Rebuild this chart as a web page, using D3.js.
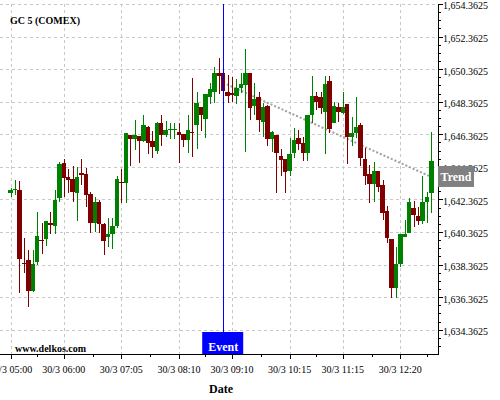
<!DOCTYPE html>
<html><head><meta charset="utf-8">
<script src="https://cdn.jsdelivr.net/npm/d3@7"></script>
<style>body{margin:0;background:#fff;} svg{display:block;font-family:"Liberation Serif","Times New Roman",serif;}</style>
</head><body><svg id="c" width="500" height="400"></svg>
<script>
const dateLabel = "30/3";
const times = ["05:00","05:05","05:10","05:15","05:20","05:25","05:30","05:35","05:40","05:45","05:50","05:55",
"06:00","06:05","06:10","06:15","06:20","06:25","06:30","06:35","06:40","06:45","06:50","06:55",
"07:00","07:05","07:10","07:15","07:20","07:25","07:30","07:35","07:40","07:45","07:50","07:55",
"08:00","08:05","08:10","08:15","08:20","08:25","08:30","08:35","08:40","08:45","08:50","08:55",
"09:00","09:05","09:10","09:15","09:20","09:25","09:30","09:35","09:40","09:45","09:50","09:55",
"10:00","10:05","10:10","10:15","10:20","10:25","10:30","10:35","10:40","10:45","10:50","10:55",
"11:00","11:05","11:10","11:15","11:20","11:25","11:30","11:35","11:40","11:45","11:50","11:55",
"12:00","12:05","12:10","12:15","12:20","12:25","12:30","12:35","12:40","12:45","12:50","12:55"];
const open = [1642.77,1642.94,1642.94,1638.47,1638.64,1636.76,1638.54,1639.86,1639.95,1640.93,1640.75,1642.47,
1644.58,1643.72,1643.61,1642.77,1643.96,1643.95,1642.72,1640.89,1642.22,1640.85,1640.07,1640.24,
1640.73,1643.43,1643.35,1646.31,1646.05,1646.25,1645.96,1646.82,1645.96,1645.35,1647.07,1646.31,
1646.62,1646.62,1646.52,1646.38,1646.01,1646.52,1646.93,1648.01,1647.30,1648.66,1648.97,1650.10,
1650.10,1648.94,1648.92,1648.73,1649.18,1649.38,1650.10,1648.11,1648.66,1647.13,1648.09,1646.05,
1646.31,1645.02,1644.84,1644.13,1645.23,1646.11,1645.80,1645.23,1647.54,1648.71,1648.66,1647.74,
1649.65,1647.07,1648.01,1647.65,1648.22,1646.17,1646.45,1646.93,1644.82,1643.92,1643.29,1644.10,
1643.24,1641.67,1639.93,1636.94,1638.40,1640.07,1640.32,1641.81,1641.34,1641.05,1642.22,1642.77];
const close = [1642.94,1643.00,1638.68,1638.41,1636.76,1638.40,1640.11,1639.79,1641.03,1640.77,1642.32,1644.53,
1643.66,1643.55,1642.83,1643.74,1643.84,1642.63,1640.93,1642.22,1640.85,1639.83,1640.24,1640.73,
1643.59,1643.37,1646.42,1646.05,1646.31,1645.96,1646.93,1645.84,1645.56,1647.07,1646.31,1646.62,
1646.68,1646.68,1646.31,1646.01,1646.62,1646.45,1648.26,1647.54,1648.83,1649.12,1650.10,1649.95,
1649.03,1648.73,1648.75,1649.18,1649.44,1650.10,1647.95,1648.51,1647.23,1648.05,1646.05,1646.52,
1645.23,1644.78,1644.06,1645.15,1646.01,1645.76,1645.19,1647.54,1648.71,1648.36,1647.95,1649.44,
1646.66,1648.09,1647.74,1648.01,1646.17,1646.45,1646.82,1644.93,1643.82,1643.29,1644.10,1643.14,
1641.54,1639.97,1636.94,1638.40,1640.22,1640.22,1642.22,1641.40,1641.05,1642.22,1642.53,1644.72];
const high = [1643.04,1643.55,1643.51,1640.01,1639.25,1639.25,1641.61,1640.91,1641.05,1641.61,1642.94,1644.68,
1644.82,1644.21,1644.41,1644.35,1644.82,1644.29,1642.82,1642.53,1642.30,1640.90,1641.20,1641.20,
1643.80,1644.21,1646.44,1646.33,1647.23,1646.27,1647.54,1646.84,1646.58,1647.09,1647.54,1647.19,
1647.07,1647.07,1647.03,1646.40,1647.54,1649.79,1648.97,1648.03,1648.85,1649.49,1650.51,1651.04,
1650.12,1650.00,1649.85,1649.73,1650.10,1651.57,1650.12,1649.49,1648.97,1648.26,1648.16,1646.54,
1646.33,1645.44,1644.86,1646.11,1646.73,1646.62,1646.17,1647.56,1649.94,1648.97,1648.97,1649.94,
1649.94,1648.36,1648.26,1648.97,1648.24,1647.40,1648.63,1647.03,1645.50,1644.47,1644.68,1644.12,
1643.55,1641.96,1639.95,1639.42,1640.24,1641.10,1642.43,1642.28,1641.88,1643.80,1642.83,1646.52];
const low = [1642.53,1642.63,1636.60,1637.82,1635.77,1636.69,1638.33,1639.01,1639.50,1640.24,1640.24,1642.18,
1642.53,1642.77,1642.18,1641.03,1643.24,1641.88,1640.28,1640.38,1640.32,1638.95,1639.42,1639.30,
1640.61,1642.16,1642.16,1644.41,1645.39,1644.60,1645.90,1645.13,1644.88,1645.15,1645.64,1646.17,
1646.05,1646.05,1644.58,1645.56,1645.19,1644.98,1645.44,1646.58,1646.11,1648.22,1648.26,1648.83,
1648.77,1648.30,1648.32,1648.22,1648.87,1645.29,1647.23,1647.54,1646.52,1646.21,1645.64,1645.29,
1642.74,1643.80,1642.74,1643.80,1644.88,1645.39,1644.74,1644.74,1647.07,1647.85,1647.60,1645.15,
1646.45,1647.05,1647.13,1647.60,1644.53,1645.64,1646.11,1644.41,1643.24,1642.16,1642.22,1642.83,
1641.10,1639.70,1636.29,1636.29,1638.19,1640.05,1640.28,1640.68,1640.79,1640.85,1640.89,1641.51];
const yTickValues = [1634.3625,1636.3625,1638.3625,1640.3625,1642.3625,1644.3625,1646.3625,1648.3625,1650.3625,1652.3625,1654.3625];
const xTickIndex = [0,12,25,38,50,63,75,88];
const eventIndex = 48;
const eventLabel = "Event";
const trendIndex = [48,95];
const trendValue = [1649.53,1643.74];
const trendLabel = "Trend";
const title = "GC 5 (COMEX)";
const watermark = "www.delkos.com";
const xTitle = "Date";

const svg = d3.select("#c");
const L=0,R=438,T=4,B=354;
const x = d3.scaleLinear().domain([-2.4,96.5]).range([L,R]);
const y = d3.scaleLinear().domain([1632.87,1654.36]).range([B,T]);
const fmt = d3.format(",.4f");
const px = v => Math.round(v)+0.5;
const GREEN="#008000", RED="#800000";

// grid
const grid = svg.append("g").attr("stroke","#c8c8c8").attr("stroke-dasharray","3,3").attr("stroke-width",1);
yTickValues.forEach(v=>{ grid.append("line").attr("x1",L).attr("x2",R).attr("y1",px(y(v))).attr("y2",px(y(v))); });
xTickIndex.forEach(i=>{ grid.append("line").attr("x1",px(x(i))).attr("x2",px(x(i))).attr("y1",T).attr("y2",B); });

// trend line (behind candles)
svg.append("line").attr("x1",x(trendIndex[0])).attr("y1",y(trendValue[0]))
  .attr("x2",x(trendIndex[1])).attr("y2",y(trendValue[1]))
  .attr("stroke","#a0a0a0").attr("stroke-width",2).attr("stroke-dasharray","2,2");

// candles
const data = times.map((t,i)=>({i,t,o:open[i],c:close[i],h:high[i],l:low[i]}));
const cg = svg.append("g").attr("shape-rendering","crispEdges");
const bw = 4.4;
data.forEach(d=>{
  const col = d.c>=d.o?GREEN:RED;
  const cx = x(d.i);
  cg.append("line").attr("x1",Math.round(cx)+0.5).attr("x2",Math.round(cx)+0.5)
    .attr("y1",y(d.h)).attr("y2",y(d.l)).attr("stroke",col).attr("stroke-width",1);
  const top = y(Math.max(d.o,d.c)), bot = y(Math.min(d.o,d.c));
  cg.append("rect").attr("x",cx-bw/2).attr("width",bw)
    .attr("y",top).attr("height",Math.max(1.2,bot-top)).attr("fill",col);
});

// event line
svg.append("line").attr("x1",px(x(eventIndex))).attr("x2",px(x(eventIndex)))
  .attr("y1",T).attr("y2",B-22).attr("stroke","#0000ff").attr("stroke-width",1);

// axes
const ax = svg.append("g").attr("stroke","#000").attr("shape-rendering","crispEdges");
ax.append("line").attr("x1",L).attr("x2",R+0.5).attr("y1",B+0.5).attr("y2",B+0.5);
ax.append("line").attr("x1",R+0.5).attr("x2",R+0.5).attr("y1",T).attr("y2",B+0.5);
xTickIndex.forEach(i=>{ ax.append("line").attr("x1",px(x(i))).attr("x2",px(x(i))).attr("y1",B).attr("y2",B+5); });
const minorX = xTickIndex.map((v,k)=> k<xTickIndex.length-1 ? (v+xTickIndex[k+1])/2 : v+6);
minorX.forEach(i=>{ ax.append("line").attr("x1",px(x(i))).attr("x2",px(x(i))).attr("y1",B).attr("y2",B+3); });
yTickValues.forEach(v=>{ ax.append("line").attr("x1",R).attr("x2",R+5).attr("y1",px(y(v))).attr("y2",px(y(v))); });
const yMinor = [];
yTickValues.forEach(v=>{ [0.5,1,1.5].forEach(s=>{ if(y(v+s)>=T) yMinor.push(v+s); }); });
[0.5,1].forEach(s=>yMinor.push(yTickValues[0]-s));
yMinor.forEach(v=>{ ax.append("line").attr("x1",R).attr("x2",R+3).attr("y1",px(y(v))).attr("y2",px(y(v))); });

// tick labels
xTickIndex.forEach(i=>{
  svg.append("text").attr("x",x(i)).attr("y",373).attr("text-anchor","middle")
    .attr("font-size",10).attr("fill","#000").text(dateLabel+" "+times[i]);
});
yTickValues.forEach(v=>{
  svg.append("text").attr("x",443).attr("y",y(v)).attr("dy","0.55em")
    .attr("font-size",10).attr("fill","#000").text(fmt(v));
});

// texts
svg.append("text").attr("x",10).attr("y",24).attr("font-size",10).attr("font-weight","bold").text(title);
svg.append("text").attr("x",15).attr("y",351.5).attr("font-size",10).attr("font-weight","bold").text(watermark);
svg.append("text").attr("x",221).attr("y",393).attr("text-anchor","middle").attr("font-size",12).attr("font-weight","bold").text(xTitle);

// event box
const ex = x(eventIndex);
svg.append("rect").attr("x",ex-21).attr("y",B-22).attr("width",41).attr("height",22).attr("fill","#0000ff");
svg.append("text").attr("x",ex).attr("y",B-3.5).attr("text-anchor","middle").attr("font-size",12)
  .attr("font-weight","bold").attr("fill","#fff").text(eventLabel);

// trend label
const ty = y(trendValue[1]);
svg.append("rect").attr("x",R).attr("y",ty-11).attr("width",36).attr("height",21).attr("fill","#808080");
svg.append("text").attr("x",R+18).attr("y",ty+4.5).attr("text-anchor","middle").attr("font-size",12)
  .attr("font-weight","bold").attr("fill","#fff").text(trendLabel);
</script></body></html>
